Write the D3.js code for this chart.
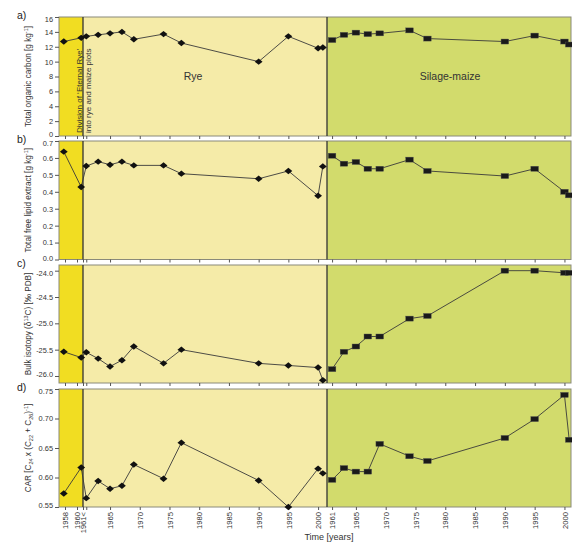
<!DOCTYPE html>
<html>
<head>
<meta charset="utf-8">
<script src="https://cdn.jsdelivr.net/npm/d3@7"></script>
<style>
  body { margin: 0; background: #fff; }
  svg text { font-family: "Liberation Sans", Arial, sans-serif; fill: #222; }
</style>
</head>
<body>
<div id="chart"></div>
<script>
// sampling years
const preYears = [1957.8, 1960.7];
const ryeYears = [1961, 1963, 1965, 1967, 1969, 1974, 1977, 1990, 1995, 2000, 2000.8];
const maizeYears = [1961, 1963, 1965, 1967, 1969, 1974, 1977, 1990, 1995, 2000, 2000.8];

// a) total organic carbon
const preTOC = [12.7, 13.2];
const ryeTOC = [13.4, 13.6, 13.8, 14.0, 13.0, 13.7, 12.5, 10.0, 13.4, 11.8, 11.9];
const maizeTOC = [12.9, 13.6, 13.9, 13.7, 13.8, 14.2, 13.1, 12.7, 13.5, 12.7, 12.3];
// b) total free lipid extract
const preLipid = [0.637, 0.428];
const ryeLipid = [0.552, 0.578, 0.560, 0.578, 0.556, 0.556, 0.507, 0.477, 0.523, 0.377, 0.550];
const maizeLipid = [0.613, 0.566, 0.576, 0.536, 0.536, 0.590, 0.523, 0.493, 0.536, 0.400, 0.379];
// c) bulk isotopy
const preD13C = [-25.54, -25.65];
const ryeD13C = [-25.55, -25.67, -25.82, -25.70, -25.44, -25.76, -25.50, -25.76, -25.80, -25.84, -26.08];
const maizeD13C = [-25.87, -25.54, -25.44, -25.25, -25.25, -24.91, -24.86, -24.00, -24.00, -24.04, -24.04];
// d) CAR
const preCAR = [0.573, 0.617];
const ryeCAR = [0.565, 0.594, 0.581, 0.586, 0.622, 0.598, 0.659, 0.595, 0.550, 0.615, 0.607];
const maizeCAR = [0.596, 0.616, 0.610, 0.610, 0.657, 0.636, 0.628, 0.667, 0.699, 0.740, 0.664];

// x tick labels
const preTicks = [1958, 1960, 1961];
const preTickLabels = ["1958", "1960", "1961<"];
const ryeTicks = [1961, 1965, 1970, 1975, 1980, 1985, 1990, 1995, 2000];
const maizeTicks = [1961, 1965, 1970, 1975, 1980, 1985, 1990, 1995, 2000];

const panels = [
  { letter: "a)", title: ["Total organic carbon [g kg", "-1", "]"], pre: preTOC, rye: ryeTOC, maize: maizeTOC,
    domain: [0, 16], ticks: [0, 2, 4, 6, 8, 10, 12, 14, 16], fmt: d3.format("d"), top: 17, bottom: 136 },
  { letter: "b)", title: ["Total free lipid extract [g kg", "-1", "]"], pre: preLipid, rye: ryeLipid, maize: maizeLipid,
    domain: [0, 0.7], ticks: [0, 0.1, 0.2, 0.3, 0.4, 0.5, 0.6, 0.7], fmt: d3.format(".1f"), top: 141, bottom: 259.5 },
  { letter: "c)", title: null, pre: preD13C, rye: ryeD13C, maize: maizeD13C,
    domain: [-26.133, -23.892], ticks: [-26, -25.5, -25, -24.5, -24], fmt: d => d.toFixed(1), top: 265, bottom: 383 },
  { letter: "d)", title: null, pre: preCAR, rye: ryeCAR, maize: maizeCAR,
    domain: [0.55, 0.75], ticks: [0.55, 0.6, 0.65, 0.7, 0.75], fmt: d3.format(".2f"), top: 389, bottom: 507 }
];

const width = 572, height = 542;
const plotLeft = 59, divX = 83, splitX = 327, plotRight = 571;

const xPre = d3.scaleLinear().domain([1957, 1961]).range([plotLeft, divX]);
const xRye = d3.scaleLinear().domain([1960.45, 2001.5]).range([divX, splitX]);
const xMaize = d3.scaleLinear().domain([1960.15, 2001.1]).range([splitX, plotRight]);

const svg = d3.select("#chart").append("svg")
  .attr("width", width)
  .attr("height", height);

const diamond = "M0,-3.2L3.9,0L0,3.2L-3.9,0Z";

panels.forEach((p, i) => {
  const y = d3.scaleLinear().domain(p.domain).range([p.bottom, p.top]);
  const g = svg.append("g");
  const h = p.bottom - p.top;

  // backgrounds
  g.append("rect").attr("x", plotLeft).attr("y", p.top).attr("width", divX - plotLeft).attr("height", h).attr("fill", "#f1dd22");
  g.append("rect").attr("x", divX).attr("y", p.top).attr("width", splitX - divX).attr("height", h).attr("fill", "#f5eba8");
  g.append("rect").attr("x", splitX).attr("y", p.top).attr("width", plotRight - splitX).attr("height", h).attr("fill", "#d2db6c");

  // frame
  g.append("rect").attr("x", plotLeft).attr("y", p.top).attr("width", plotRight - plotLeft).attr("height", h)
    .attr("fill", "none").attr("stroke", "#8a8a7a").attr("stroke-width", 1);
  [divX, splitX].forEach(xx => {
    g.append("line").attr("x1", xx).attr("x2", xx).attr("y1", p.top).attr("y2", p.bottom)
      .attr("stroke", "#333").attr("stroke-width", 1.3);
  });

  // y axis
  const yAxis = g.append("g").attr("transform", `translate(${plotLeft},0)`)
    .call(d3.axisLeft(y).tickValues(p.ticks).tickFormat(p.fmt).tickSize(4).tickPadding(2));
  yAxis.select(".domain").remove();
  yAxis.selectAll("line").attr("stroke", "#555");
  yAxis.selectAll("text").style("font-size", "7.4px").style("fill", "#333").style("font-family", "Liberation Sans, Arial, sans-serif");
  // keep end labels of neighbouring panels apart
  const lo = d3.min(p.ticks), hi = d3.max(p.ticks);
  yAxis.selectAll(".tick").filter(d => d === lo).select("text").attr("dy", "0.1em");
  yAxis.selectAll(".tick").filter(d => d === hi).select("text").attr("dy", "0.62em");

  // x axes (ticks on each panel, labels on the last)
  const isLast = i === panels.length - 1;
  [[xPre, preTicks], [xRye, ryeTicks], [xMaize, maizeTicks]].forEach(([sc, tv], k) => {
    const ax = g.append("g").attr("transform", `translate(0,${p.bottom})`)
      .call(d3.axisBottom(sc).tickValues(tv).tickSize(3)
        .tickFormat((d, j) => {
          if (!isLast) return "";
          if (k === 0) return preTickLabels[j];
          if (k === 1 && d === 1961) return "";
          return String(d);
        }));
    ax.select(".domain").remove();
    ax.selectAll("line").attr("stroke", "#555");
    ax.selectAll("text")
      .attr("transform", "rotate(-90)")
      .attr("x", -5).attr("y", 0).attr("dy", "0.35em")
      .style("text-anchor", "end")
      .style("font-size", "7.6px").style("fill", "#333")
      .style("font-family", "Liberation Sans, Arial, sans-serif");
  });

  // rye series (pre-division + rye plot)
  const ryePts = preYears.map((yr, j) => [xPre(yr), y(p.pre[j])])
    .concat(ryeYears.map((yr, j) => [xRye(yr), y(p.rye[j])]));
  const maizePts = maizeYears.map((yr, j) => [xMaize(yr), y(p.maize[j])]);
  const line = d3.line();
  g.append("path").attr("d", line(ryePts)).attr("fill", "none").attr("stroke", "#3a3a3a").attr("stroke-width", 0.9);
  g.append("path").attr("d", line(maizePts)).attr("fill", "none").attr("stroke", "#3a3a3a").attr("stroke-width", 0.9);

  g.selectAll(".dia").data(ryePts).enter().append("path")
    .attr("d", diamond)
    .attr("transform", d => `translate(${d[0]},${d[1]})`)
    .attr("fill", "#111");
  g.selectAll(".sq").data(maizePts).enter().append("rect")
    .attr("x", d => d[0] - 3.8).attr("y", d => d[1] - 2.5)
    .attr("width", 7.6).attr("height", 5)
    .attr("fill", "#1a1a1a").attr("stroke", "#555").attr("stroke-width", 0.4);

  // panel letter
  svg.append("text").attr("x", 17).attr("y", p.top + 2)
    .style("font-size", "10.5px").style("fill", "#222").text(p.letter);

  // y title
  const cy = (p.top + p.bottom) / 2;
  const t = svg.append("text")
    .attr("transform", `translate(31,${cy}) rotate(-90)`)
    .attr("text-anchor", "middle")
    .style("font-size", "8.2px").style("fill", "#333");
  if (i === 0 || i === 1) {
    t.append("tspan").text(p.title[0]);
    t.append("tspan").attr("dy", -3).style("font-size", "5.5px").text(p.title[1]);
    t.append("tspan").attr("dy", 3).text(p.title[2]);
  } else if (i === 2) {
    t.append("tspan").text("Bulk isotopy (\u03b4");
    t.append("tspan").attr("dy", -3).style("font-size", "5.5px").text("13");
    t.append("tspan").attr("dy", 3).text("C) [\u2030 PDB]");
  } else {
    t.append("tspan").text("CAR [C");
    t.append("tspan").attr("dy", 2).style("font-size", "5.5px").text("24");
    t.append("tspan").attr("dy", -2).text(" x (C");
    t.append("tspan").attr("dy", 2).style("font-size", "5.5px").text("22");
    t.append("tspan").attr("dy", -2).text(" + C");
    t.append("tspan").attr("dy", 2).style("font-size", "5.5px").text("26");
    t.append("tspan").attr("dy", -2).text(")");
    t.append("tspan").attr("dy", -3).style("font-size", "5.5px").text("-1");
    t.append("tspan").attr("dy", 3).text("]");
  }
});

// annotations in panel a
svg.append("text").attr("x", 193).attr("y", 80).attr("text-anchor", "middle")
  .style("font-size", "10.5px").style("fill", "#333").text("Rye");
svg.append("text").attr("x", 450).attr("y", 80).attr("text-anchor", "middle")
  .style("font-size", "10.5px").style("fill", "#333").text("Silage-maize");

svg.append("text").attr("transform", `translate(82,133) rotate(-90)`)
  .style("font-size", "8px").style("fill", "#333").text("Division of \u2018Eternal Rye\u2019");
svg.append("text").attr("transform", `translate(91,133) rotate(-90)`)
  .style("font-size", "8px").style("fill", "#333").text("into rye and maize plots");

// x title
svg.append("text").attr("x", 329).attr("y", 540).attr("text-anchor", "middle")
  .style("font-size", "9px").style("fill", "#333").text("Time [years]");
</script>
</body>
</html>
